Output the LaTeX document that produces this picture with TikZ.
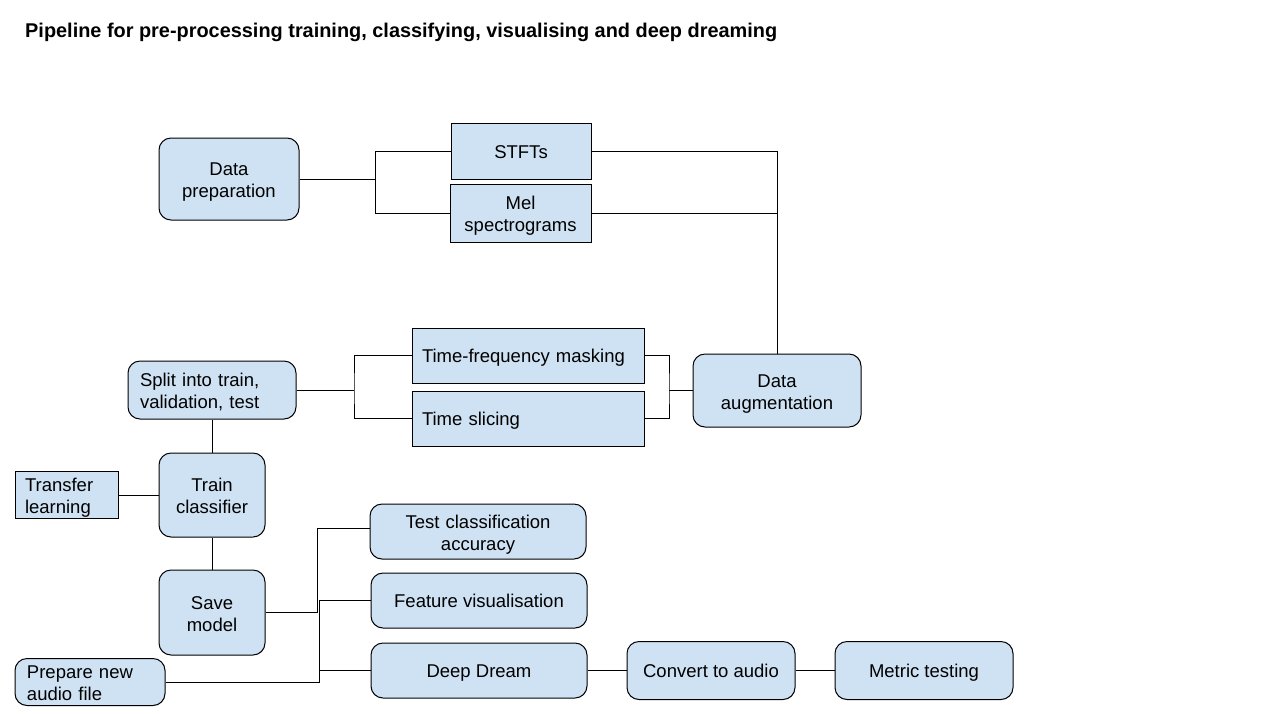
\documentclass[tikz,border=0pt]{standalone}
\usepackage{fontspec}
\setmainfont{Liberation Sans}
\definecolor{boxblue}{HTML}{CFE2F3}
\begin{document}
\begin{tikzpicture}[x=1pt,y=-1pt,
  base/.style={draw=black, fill=boxblue, line width=1pt, inner sep=0pt,
    font=\fontsize{18.5}{22}\selectfont, align=center,
    execute at begin node={\rule{0pt}{19pt}},
    execute at end node={\rule[-5pt]{0pt}{0pt}}},
  ml/.style={execute at begin node={\rule{0pt}{20pt}},
    execute at end node={\rule[-4pt]{0pt}{0pt}}},
  rbox/.style={base, rounded corners=12pt},
  sbox/.style={base},
  conn/.style={draw=black, line width=1pt},
]
\useasboundingbox (0,0) rectangle (1280,713);
\fill[white] (0,0) rectangle (1280,713);

\node[anchor=base west, font=\bfseries\fontsize{19.9}{24}\selectfont, inner sep=0pt] (title) at (25,37)
  {Pipeline for pre-processing training, classifying, visualising and deep dreaming};

% top row
\node[rbox, ml, text width=140pt, minimum height=82pt] (dp) at (229,179) {Data\\preparation};
\node[sbox, minimum width=140pt, minimum height=56pt] (stft) at (521,151) {STFTs};
\node[sbox, ml, text width=141pt, minimum height=58pt] (mel) at (520.5,213) {Mel\\spectrograms};

% augmentation row
\node[rbox, ml, text width=168pt, minimum height=73pt] (aug) at (777,390.5) {Data\\augmentation};
\node[sbox, minimum height=55pt, text width=212pt, inner xsep=10pt, align=left] (tfm) at (528,355.5) {Time-frequency masking};
\node[sbox, minimum height=55pt, text width=212pt, inner xsep=10pt, align=left] (ts) at (528,418.5) {Time slicing};
\node[rbox, ml, minimum height=58pt, text width=144pt, inner xsep=12pt, align=left] (split) at (212,390) {Split into train,\\validation, test};

% training
\node[rbox, ml, text width=106pt, minimum height=84pt] (train) at (212,495) {Train\\classifier};
\node[sbox, ml, minimum height=46pt, text width=83pt, inner xsep=10pt, align=left] (tl) at (66.5,495) {Transfer\\learning};
\node[rbox, ml, text width=106pt, minimum height=85pt] (save) at (212,612.5) {Save\\model};
\node[rbox, ml, minimum height=46pt, text width=126pt, inner xsep=12pt, align=left] (prep) at (90,682) {Prepare new\\audio file};

% outputs
\node[rbox, ml, text width=216pt, minimum height=55pt] (test) at (478,531.5) {Test classification\\accuracy};
\node[rbox, minimum width=216pt, minimum height=55pt] (feat) at (479,600.5) {Feature visualisation};
\node[rbox, minimum width=216pt, minimum height=55pt] (dd) at (479,670.5) {Deep Dream};
\node[rbox, minimum width=168pt, minimum height=58pt] (conv) at (711,670.5) {Convert to audio};
\node[rbox, minimum width=178pt, minimum height=58pt] (metric) at (924,670.5) {Metric testing};

% junctions
\coordinate (j1) at (375,179);
\coordinate (j3) at (669,390.5);
\coordinate (j4) at (354,390);
\coordinate (j5) at (317,612.5);
\coordinate (j6) at (319,682);

% connectors
\draw[conn] (dp.east) -- (j1) |- (stft.west);
\draw[conn] (j1) |- (mel.west);
\draw[conn] (stft.east) -| (aug.north);
\draw[conn] (mel.east) -- (mel.east -| aug.north);
\draw[conn] (tfm.east) -| (j3) |- (ts.east);
\draw[conn] (j3) -- (aug.west);
\draw[conn] (split.east) -- (j4);
\draw[conn] (tfm.west) -| (j4) |- (ts.west);
\draw[conn] (split.south) -- (train.north);
\draw[conn] (tl.east) -- (train.west);
\draw[conn] (train.south) -- (save.north);
\draw[conn] (save.east) -- (j5) |- ([yshift=3.5pt]test.west);
\draw[conn] (prep.east) -- (j6) |- (feat.west);
\draw[conn] (dd.west) -- (dd.west -| j6);
\draw[conn] (dd.east) -- (conv.west);
\draw[conn] (conv.east) -- (metric.west);
\end{tikzpicture}
\end{document}
